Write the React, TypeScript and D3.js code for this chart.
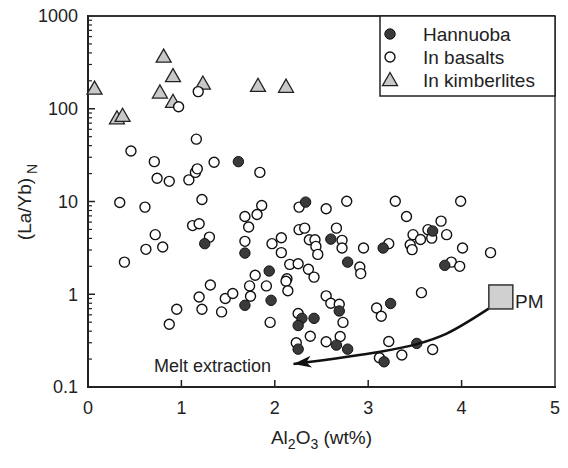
import React from "react";
import * as d3 from "d3";

const hannuoba: [number, number][] = [
  [1.25, 3.51], [1.61, 26.9], [2.33, 9.85], [2.60, 3.93], [1.68, 2.78], [2.78, 2.22],
  [3.16, 3.15], [1.94, 1.78], [3.69, 4.80], [3.82, 2.05], [1.68, 0.76], [1.96, 0.86],
  [2.29, 0.55], [2.42, 0.55], [2.25, 0.46], [2.69, 0.66], [2.25, 0.256], [2.66, 0.283],
  [2.78, 0.256], [3.17, 0.187], [3.24, 0.795], [3.52, 0.295],
];

const basalts: [number, number][] = [
  [0.97, 105], [1.18, 153], [1.16, 47], [0.46, 35], [0.71, 26.9], [1.35, 26.5], [0.74, 17.8],
  [0.87, 16.5], [1.08, 17.1], [1.15, 20.6], [1.17, 22.5], [0.34, 9.75], [0.61, 8.7], [1.22, 10.5],
  [1.12, 5.5], [1.19, 5.75], [0.72, 4.39], [0.62, 3.05], [0.80, 3.23], [1.30, 4.13], [0.39, 2.22],
  [1.84, 20.6], [1.86, 9.06], [1.81, 7.24], [1.68, 6.90], [1.72, 5.30], [1.68, 3.72], [2.26, 8.7],
  [2.55, 8.34], [2.77, 10.07], [1.97, 3.51], [2.07, 4.07], [2.07, 2.81], [2.26, 4.97], [2.32, 5.16],
  [2.37, 3.87], [2.43, 3.87], [2.44, 3.28], [2.46, 2.69], [2.66, 5.16], [2.72, 3.81], [2.72, 3.15],
  [2.95, 3.15], [2.16, 2.10], [2.25, 2.13], [2.36, 1.86], [2.42, 1.53], [2.13, 1.47], [1.79, 1.60],
  [2.91, 1.97], [2.92, 1.67], [3.22, 3.51], [3.29, 10.07], [3.99, 10.07], [3.41, 6.90], [3.78, 6.14],
  [3.48, 4.39], [3.64, 4.97], [3.56, 3.90], [3.68, 4.03], [3.84, 4.39], [3.45, 3.42], [3.47, 3.03],
  [4.01, 3.15], [4.31, 2.81], [3.89, 2.22], [3.98, 2.00], [0.87, 0.475], [0.95, 0.69], [1.19, 0.935],
  [1.31, 1.26], [1.22, 0.69], [1.43, 0.645], [1.47, 0.90], [1.55, 1.02], [1.73, 1.23], [1.74, 0.95],
  [1.91, 1.23], [1.95, 0.497], [2.12, 1.38], [2.14, 1.09], [2.25, 0.62], [2.55, 0.96], [2.60, 0.80],
  [2.69, 0.78], [2.73, 0.497], [2.38, 0.353], [2.55, 0.307], [2.70, 0.35], [2.23, 0.30], [3.09, 0.71],
  [3.14, 0.58], [3.12, 0.207], [3.22, 0.31], [3.57, 1.04], [3.36, 0.221], [3.69, 0.254],
];

const kimberlites: [number, number][] = [
  [0.07, 165], [0.31, 79], [0.37, 84], [0.81, 365], [0.91, 225], [0.77, 150], [0.91, 119],
  [1.23, 187], [1.82, 177], [2.12, 173],
];

const pm: [number, number] = [4.42, 0.935];
const meltPath: [number, number][] = [
  [4.29, 0.70], [3.84, 0.377], [3.52, 0.29], [3.13, 0.24], [2.20, 0.177],
];

const xTicks = [0, 1, 2, 3, 4, 5];
const yTicks = [0.1, 1, 10, 100, 1000];
const yTickLabels = ["0.1", "1", "10", "100", "1000"];
const legendLabels = ["Hannuoba", "In basalts", "In kimberlites"];

const FONT = "'Liberation Sans', Arial, Helvetica, sans-serif";

export default function App() {
  const W = 568, H = 468;
  const x = d3.scaleLinear().domain([0, 5]).range([88, 555]);
  const y = d3.scaleLog().domain([0.1, 1000]).range([387, 16]);

  const minor: number[] = [];
  [0.1, 1, 10, 100].forEach((d) => {
    for (let k = 2; k <= 9; k++) minor.push(d * k);
  });

  const tri = (cx: number, cy: number) => {
    const s = 7.5;
    return `M${cx},${cy - s} L${cx + s},${cy + s * 0.75} L${cx - s},${cy + s * 0.75} Z`;
  };

  const line = d3
    .line<[number, number]>()
    .x((d) => x(d[0]))
    .y((d) => y(d[1]))
    .curve(d3.curveCatmullRom.alpha(0.5));

  const px = x(pm[0]);
  const py = y(pm[1]);
  const sq = 24;

  const legX = 390;
  const legRows = [34, 57, 80];

  return (
    <svg
      width={W}
      height={H}
      style={{ position: "absolute", left: 0, top: 0, background: "#fff" }}
      fontFamily={FONT}
    >
      <defs>
        <marker
          id="arr"
          markerUnits="userSpaceOnUse"
          markerWidth={24}
          markerHeight={16}
          refX={18}
          refY={8}
          orient="auto"
        >
          <path d="M18,8 L0,2 L5,8 L0,14 Z" fill="#111" />
        </marker>
      </defs>

      {/* minor ticks */}
      {minor.map((v, i) => (
        <line key={"m" + i} x1={x(0)} x2={x(0) + 4} y1={y(v)} y2={y(v)} stroke="#222" strokeWidth={1.2} />
      ))}
      {yTicks.map((v, i) => (
        <line key={"yt" + i} x1={x(0)} x2={x(0) + 7} y1={y(v)} y2={y(v)} stroke="#222" strokeWidth={1.5} />
      ))}
      {xTicks.map((v, i) => (
        <line key={"xt" + i} x1={x(v)} x2={x(v)} y1={y(0.1)} y2={y(0.1) - 7} stroke="#222" strokeWidth={1.5} />
      ))}

      {/* frame */}
      <line x1={x(0)} x2={x(5)} y1={y(1000)} y2={y(1000)} stroke="#333" strokeWidth={2} />
      <line x1={x(5)} x2={x(5)} y1={y(1000)} y2={y(0.1)} stroke="#666" strokeWidth={2} />
      <line x1={x(0)} x2={x(0)} y1={y(1000) - 1} y2={y(0.1) + 1} stroke="#222" strokeWidth={2} />
      <line x1={x(0) - 1} x2={x(5) + 1} y1={y(0.1)} y2={y(0.1)} stroke="#222" strokeWidth={2} />

      {/* tick labels */}
      {yTicks.map((v, i) => (
        <text key={"yl" + i} x={78} y={y(v)} dy="0.36em" textAnchor="end" fontSize={18} fill="#222">
          {yTickLabels[i]}
        </text>
      ))}
      {xTicks.map((v, i) => (
        <text key={"xl" + i} x={x(v)} y={414} textAnchor="middle" fontSize={18} fill="#222">
          {v}
        </text>
      ))}

      {/* axis titles */}
      <text x={x(2.5)} y={444} textAnchor="middle" fontSize={19} fill="#222">
        Al<tspan fontSize={14} dy={5}>2</tspan>
        <tspan dy={-5}>O</tspan>
        <tspan fontSize={14} dy={5}>3</tspan>
        <tspan dy={-5}> (wt%)</tspan>
      </text>
      <text transform="translate(31,202) rotate(-90)" textAnchor="middle" fontSize={19} fill="#222">
        (La/Yb)
        <tspan fontSize={14} dy={6}> N</tspan>
      </text>

      {/* data */}
      {kimberlites.map((d, i) => (
        <path key={"k" + i} d={tri(x(d[0]), y(d[1]))} fill="#c8c8c8" stroke="#222" strokeWidth={1.3} />
      ))}
      {basalts.map((d, i) => (
        <circle key={"b" + i} cx={x(d[0])} cy={y(d[1])} r={5} fill="#fff" stroke="#111" strokeWidth={1.4} />
      ))}
      {hannuoba.map((d, i) => (
        <circle key={"h" + i} cx={x(d[0])} cy={y(d[1])} r={5.2} fill="#3a3a3a" stroke="#111" strokeWidth={1} />
      ))}

      {/* melt extraction */}
      <path d={line(meltPath) || ""} fill="none" stroke="#111" strokeWidth={2.5} markerEnd="url(#arr)" />
      <rect x={px - sq / 2} y={py - sq / 2} width={sq} height={sq} fill="#d0d0d0" stroke="#333" strokeWidth={1.5} />
      <text x={515} y={308} fontSize={19} fill="#222">PM</text>
      <text x={154} y={372} fontSize={18} fill="#222">Melt extraction</text>

      {/* legend */}
      <rect x={380} y={16} width={175} height={80} fill="#fff" stroke="#222" strokeWidth={1.5} />
      <circle cx={legX} cy={legRows[0]} r={5.2} fill="#3a3a3a" stroke="#111" strokeWidth={1} />
      <circle cx={legX} cy={legRows[1]} r={5} fill="#fff" stroke="#111" strokeWidth={1.4} />
      <path d={tri(legX, legRows[2])} fill="#c8c8c8" stroke="#222" strokeWidth={1.3} />
      {legendLabels.map((t, i) => (
        <text key={"lg" + i} x={423} y={legRows[i]} dy="0.36em" fontSize={19} fill="#222">
          {t}
        </text>
      ))}
    </svg>
  );
}
